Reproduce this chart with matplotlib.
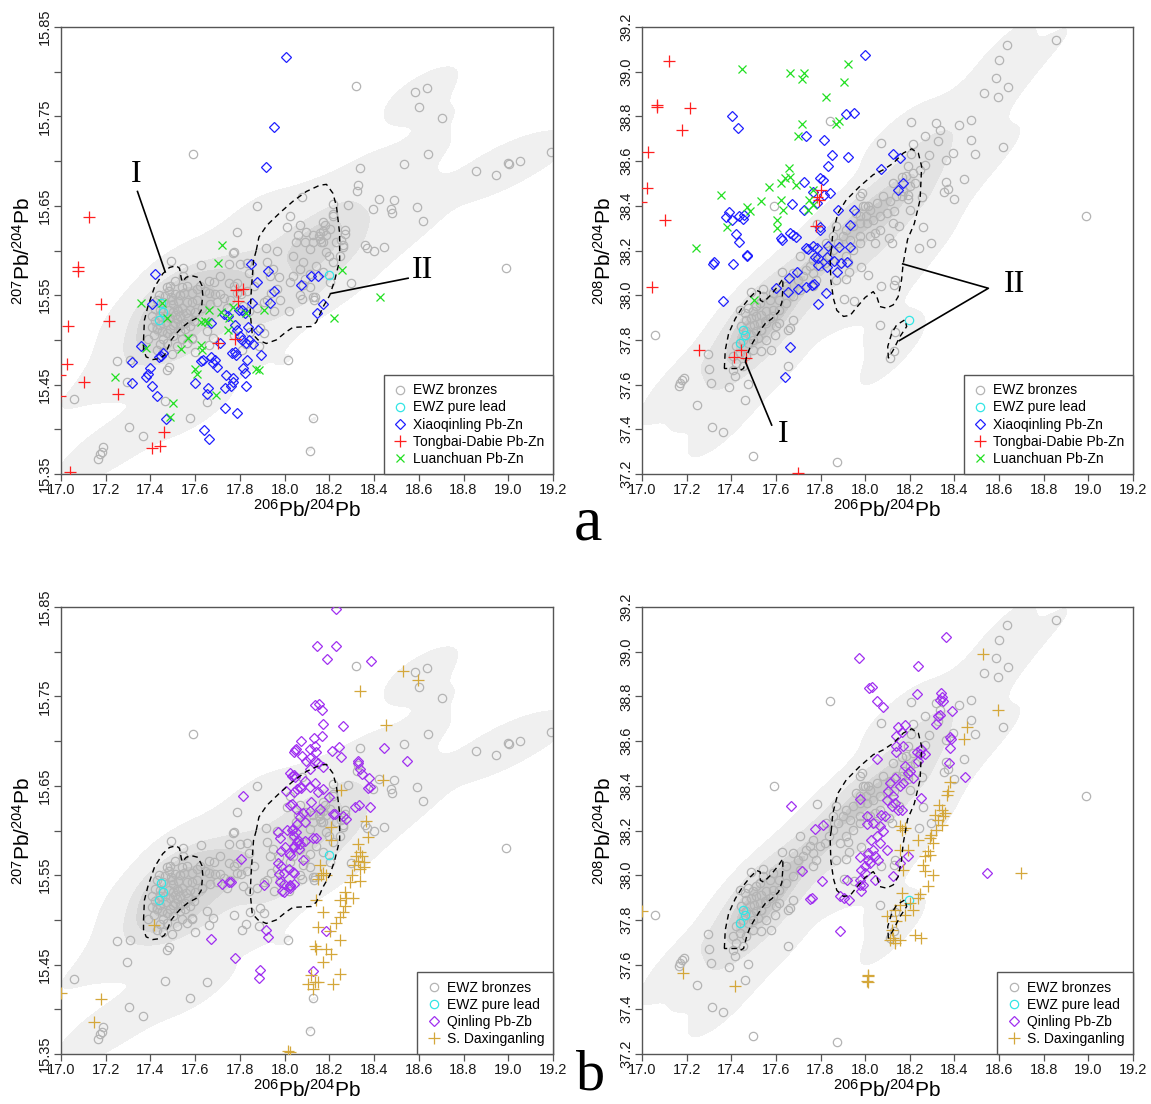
import numpy as np
import matplotlib
matplotlib.use("Agg")
import matplotlib.pyplot as plt
from matplotlib.lines import Line2D

plt.rcParams["font.family"] = ["Liberation Sans", "DejaVu Sans"]
plt.rcParams["mathtext.fontset"] = "custom"
plt.rcParams["mathtext.rm"] = "Liberation Sans"
plt.rcParams["mathtext.it"] = "Liberation Sans:italic"

# ---------------------------------------------------------------- data
# EWZ bronzes, 206Pb/204Pb vs 207Pb/204Pb
bronze_207 = np.array([
    (17.59, 15.708), (17.878, 15.65), (17.787, 15.621), (17.77, 15.597), (18.319, 15.784),
    (18.585, 15.777), (18.636, 15.782), (18.601, 15.761), (18.702, 15.748), (18.337, 15.692),
    (18.534, 15.697), (18.64, 15.708), (18.857, 15.689), (18.946, 15.684), (19.0, 15.698),
    (19.005, 15.697), (19.054, 15.70), (19.19, 15.71), (18.99, 15.58), (18.013, 15.477),
    (18.128, 15.413), (18.113, 15.376),
    (18.325, 15.666), (18.33, 15.673), (18.284, 15.651), (18.421, 15.658), (18.49, 15.657),
    (18.394, 15.646), (18.475, 15.646), (18.478, 15.642), (18.594, 15.649), (18.617, 15.633),
    (18.215, 15.652), (18.218, 15.641), (18.076, 15.66), (18.269, 15.623), (18.272, 15.618),
    (18.17, 15.622), (18.18, 15.628), (18.155, 15.616), (18.16, 15.62), (18.09, 15.61),
    (18.125, 15.61), (18.163, 15.61), (18.06, 15.617), (18.01, 15.626), (18.358, 15.606),
    (18.367, 15.603), (18.398, 15.60), (18.443, 15.604), (18.254, 15.612), (18.26, 15.604),
    (18.018, 15.532), (18.079, 15.546), (18.127, 15.548), (18.13, 15.545), (18.296, 15.564),
    (18.022, 15.565),
    (18.216, 15.639), (18.172, 15.632), (18.201, 15.624), (18.231, 15.609), (18.157, 15.613),
    (18.127, 15.617), (18.097, 15.621), (18.067, 15.628), (18.052, 15.609), (18.037, 15.594),
    (18.082, 15.587), (18.142, 15.583), (18.172, 15.576), (18.216, 15.587), (18.246, 15.594),
    (18.261, 15.606), (18.187, 15.617), (18.112, 15.602), (18.067, 15.579), (18.037, 15.572),
    (18.022, 15.639), (18.201, 15.565), (18.112, 15.574), (18.089, 15.568), (18.082, 15.561),
    (18.112, 15.559), (18.134, 15.548), (18.067, 15.55), (18.187, 15.598), (18.20, 15.594),
    (18.172, 15.609),
    (17.772, 15.598), (17.749, 15.585), (17.799, 15.585), (17.831, 15.586), (17.84, 15.575),
    (17.916, 15.603), (17.966, 15.60), (17.921, 15.587), (17.948, 15.579), (17.933, 15.572),
    (17.973, 15.57), (17.493, 15.588), (17.545, 15.58), (17.628, 15.584), (17.712, 15.572),
    (17.664, 15.566), (17.682, 15.565), (17.749, 15.564), (17.772, 15.56), (17.787, 15.564),
    (17.622, 15.56), (17.645, 15.555), (17.664, 15.553), (17.69, 15.551), (17.712, 15.551),
    (17.727, 15.547), (17.757, 15.545), (17.787, 15.553), (17.806, 15.551), (17.831, 15.555),
    (17.861, 15.56), (17.585, 15.542), (17.607, 15.545), (17.63, 15.536), (17.667, 15.54),
    (17.697, 15.542), (17.742, 15.536), (17.816, 15.538), (17.839, 15.532), (17.876, 15.536),
    (17.906, 15.542), (17.921, 15.545), (17.939, 15.553), (17.966, 15.557), (17.978, 15.545),
    (17.951, 15.532),
    (17.652, 15.51), (17.678, 15.502), (17.585, 15.501), (17.66, 15.494), (17.60, 15.486),
    (17.772, 15.506), (17.809, 15.489), (17.846, 15.509), (17.828, 15.495), (17.888, 15.513),
    (17.906, 15.508), (17.884, 15.493),
    (17.249, 15.476), (17.309, 15.478), (17.297, 15.453), (17.06, 15.434), (17.303, 15.403),
    (17.366, 15.393), (17.167, 15.367), (17.175, 15.372), (17.187, 15.38), (17.182, 15.375),
    (17.466, 15.432), (17.476, 15.466), (17.481, 15.47), (17.575, 15.413), (17.652, 15.43),
    (17.391, 15.501), (17.416, 15.506), (17.428, 15.512), (17.443, 15.517), (17.406, 15.514),
    (17.458, 15.501), (17.473, 15.508), (17.488, 15.512), (17.503, 15.517), (17.518, 15.523),
    (17.533, 15.527), (17.428, 15.489), (17.458, 15.486), (17.443, 15.495), (17.473, 15.497),
    (17.503, 15.504), (17.533, 15.51), (17.555, 15.512), (17.578, 15.516), (17.585, 15.502),
    (17.563, 15.497), (17.54, 15.501), (17.518, 15.493), (17.496, 15.484), (17.466, 15.549),
    (17.481, 15.555), (17.496, 15.545), (17.51, 15.551), (17.525, 15.544), (17.54, 15.536),
    (17.481, 15.534), (17.503, 15.531), (17.525, 15.532), (17.548, 15.553), (17.563, 15.542),
    (17.578, 15.534), (17.60, 15.531), (17.593, 15.521), (17.57, 15.525), (17.555, 15.519),
    (17.533, 15.517), (17.51, 15.519), (17.488, 15.525), (17.466, 15.527), (17.443, 15.534),
    (17.428, 15.545), (17.458, 15.542), (17.473, 15.559), (17.488, 15.56), (17.51, 15.566),
    (17.545, 15.572), (17.54, 15.559), (17.563, 15.56), (17.585, 15.553), (17.607, 15.557),
    (17.443, 15.527), (17.421, 15.521), (17.406, 15.527), (17.50, 15.54), (17.52, 15.535),
    (17.49, 15.548), (17.47, 15.52), (17.51, 15.528), (17.45, 15.51), (17.53, 15.55),
    (17.42, 15.535), (17.44, 15.55), (17.56, 15.53),
])

# EWZ bronzes, 206Pb/204Pb vs 208Pb/204Pb
bronze_208 = np.array([
    (17.058, 37.823), (17.164, 37.595), (17.172, 37.607), (17.179, 37.619), (17.187, 37.63),
    (17.248, 37.51), (17.296, 37.738), (17.30, 37.67), (17.307, 37.607), (17.313, 37.409),
    (17.363, 37.388), (17.388, 37.589), (17.418, 37.637), (17.463, 37.533), (17.475, 37.603),
    (17.496, 37.279), (17.873, 37.252), (17.49, 38.013), (17.542, 38.028), (17.628, 38.104),
    (17.654, 37.846), (17.661, 37.853), (17.655, 37.685), (17.676, 37.891), (17.709, 38.174),
    (17.591, 38.40), (17.843, 38.778), (17.785, 38.32), (17.915, 38.073), (17.903, 37.983),
    (17.952, 37.973), (18.012, 38.092),
    (17.676, 38.099), (17.699, 38.069), (17.721, 38.084), (17.736, 38.114), (17.751, 38.129),
    (17.766, 38.099), (17.781, 38.069), (17.796, 38.129), (17.818, 38.144), (17.84, 38.174),
    (17.855, 38.204), (17.878, 38.234), (17.90, 38.263), (17.915, 38.293), (17.945, 38.308),
    (17.975, 38.323), (18.004, 38.353), (17.766, 38.04), (17.706, 38.025), (17.676, 37.995),
    (17.646, 37.965), (17.616, 37.935), (17.587, 37.905), (17.557, 37.876), (17.534, 37.846),
    (17.587, 38.01), (17.616, 37.98), (17.646, 38.04), (17.766, 38.159), (17.826, 38.234),
    (17.87, 38.308), (17.93, 38.248), (17.96, 38.368), (17.99, 38.398), (17.87, 38.069),
    (17.885, 38.144), (17.915, 38.174), (17.945, 38.204), (17.975, 38.234), (17.855, 38.263),
    (17.437, 37.935), (17.46, 37.92), (17.475, 37.943), (17.497, 37.928), (17.512, 37.95),
    (17.527, 37.965), (17.467, 37.891), (17.49, 37.898), (17.512, 37.905), (17.534, 37.913),
    (17.557, 37.928), (17.482, 37.861), (17.504, 37.868), (17.527, 37.876), (17.549, 37.883),
    (17.572, 37.898), (17.445, 37.861), (17.467, 37.838), (17.49, 37.823), (17.512, 37.838),
    (17.534, 37.846), (17.452, 37.801), (17.475, 37.786), (17.497, 37.801), (17.519, 37.808),
    (17.422, 37.771), (17.437, 37.741), (17.467, 37.726), (17.497, 37.756), (17.534, 37.749),
    (17.579, 37.756), (17.557, 37.801), (17.594, 37.823), (17.601, 37.861), (17.616, 37.876),
    (17.422, 37.697), (17.407, 37.667), (17.452, 37.682), (17.542, 37.995), (17.572, 37.98),
    (17.587, 37.935), (17.407, 37.726),
    (18.857, 39.143), (18.636, 39.118), (18.601, 39.054), (18.585, 38.972), (18.64, 38.932),
    (18.534, 38.905), (18.593, 38.887), (18.206, 38.775), (18.318, 38.77), (18.421, 38.762),
    (18.472, 38.785), (18.269, 38.711), (18.334, 38.738), (18.325, 38.69), (18.475, 38.696),
    (18.07, 38.681), (18.215, 38.678), (18.207, 38.633), (18.284, 38.627), (18.393, 38.636),
    (18.49, 38.633), (18.616, 38.662), (18.363, 38.606), (18.269, 38.584), (18.19, 38.576),
    (18.214, 38.546), (18.165, 38.531), (18.442, 38.52), (18.364, 38.505), (18.37, 38.475),
    (18.355, 38.46), (18.399, 38.432), (18.253, 38.441), (18.19, 38.45), (18.19, 38.43),
    (17.984, 38.457), (18.013, 38.40), (18.13, 38.377), (18.151, 38.308), (18.261, 38.307),
    (18.991, 38.353), (18.294, 38.234), (18.24, 38.211), (18.121, 38.234), (18.107, 38.256),
    (18.042, 38.234), (18.043, 38.278), (17.922, 38.15), (17.926, 38.103), (17.98, 38.128),
    (18.133, 38.067), (18.131, 38.047), (18.069, 38.04), (18.066, 37.868), (18.131, 37.749),
    (18.112, 37.719), (18.132, 37.834),
    (17.976, 38.442), (17.999, 38.398), (18.021, 38.383), (18.051, 38.413), (18.081, 38.442),
    (18.11, 38.42), (18.14, 38.442), (18.17, 38.465), (18.20, 38.487), (17.976, 38.353),
    (18.006, 38.323), (18.036, 38.338), (18.066, 38.353), (18.096, 38.368), (18.125, 38.323),
    (18.021, 38.263), (18.066, 38.293), (18.20, 38.383), (18.163, 38.442), (18.222, 38.502),
    (18.245, 38.562), (18.185, 38.532), (18.125, 38.502), (17.976, 38.263),
])

lead_207 = np.array([(17.445, 15.541), (17.437, 15.522), (17.455, 15.531), (18.197, 15.573)])
lead_208 = np.array([(17.451, 37.843), (17.46, 37.82), (17.437, 37.786), (18.198, 37.888)])

xiao_207 = np.array([
    (18.004, 15.816), (17.951, 15.738), (17.915, 15.693), (17.421, 15.574), (17.407, 15.54),
    (17.357, 15.493), (17.448, 15.482), (17.458, 15.485), (17.437, 15.481), (17.316, 15.475),
    (17.399, 15.469), (17.378, 15.459), (17.388, 15.462), (17.319, 15.452), (17.407, 15.448),
    (17.43, 15.437), (17.47, 15.411), (17.64, 15.399), (17.661, 15.389), (17.597, 15.452),
    (17.625, 15.476), (17.637, 15.477), (17.669, 15.481), (17.687, 15.478), (17.679, 15.474),
    (17.697, 15.47), (17.651, 15.44), (17.657, 15.446), (17.669, 15.519), (17.73, 15.529),
    (17.745, 15.527), (17.709, 15.496), (17.736, 15.461), (17.734, 15.446), (17.761, 15.448),
    (17.769, 15.457), (17.77, 15.453), (17.734, 15.424), (17.785, 15.418), (17.828, 15.448),
    (17.821, 15.463), (17.813, 15.469), (17.831, 15.478), (17.763, 15.485), (17.776, 15.487),
    (17.784, 15.483), (17.776, 15.517), (17.787, 15.511), (17.799, 15.504), (17.81, 15.50),
    (17.826, 15.497), (17.84, 15.50), (17.796, 15.533), (17.81, 15.533), (17.825, 15.53),
    (17.836, 15.514), (17.855, 15.541), (17.881, 15.511), (17.857, 15.495), (17.893, 15.483),
    (17.848, 15.585), (17.878, 15.565), (17.925, 15.577), (17.952, 15.555), (17.934, 15.541),
    (18.072, 15.561), (18.12, 15.571), (18.149, 15.571), (18.172, 15.54), (18.146, 15.53),
])
xiao_208 = np.array([
    (18.001, 39.074), (17.404, 38.804), (17.43, 38.746), (17.733, 38.712), (17.815, 38.694),
    (17.852, 38.627), (17.833, 38.579), (17.922, 38.617), (17.915, 38.809), (17.949, 38.813),
    (17.724, 38.507), (17.796, 38.523), (17.81, 38.515), (17.766, 38.463), (17.815, 38.449),
    (17.843, 38.459), (17.672, 38.408), (17.725, 38.379), (17.784, 38.411), (17.878, 38.382),
    (17.949, 38.379), (17.933, 38.315), (17.796, 38.307), (17.796, 38.292), (17.388, 38.371),
    (17.378, 38.352), (17.403, 38.337), (17.434, 38.355), (17.452, 38.34), (17.457, 38.359),
    (17.422, 38.273), (17.434, 38.237), (17.472, 38.181), (17.624, 38.255), (17.628, 38.248),
    (17.664, 38.277), (17.676, 38.27), (17.688, 38.262), (17.733, 38.21), (17.766, 38.218),
    (17.784, 38.21), (17.882, 38.215), (17.833, 38.222), (17.47, 38.175), (17.407, 38.14),
    (17.318, 38.14), (17.321, 38.148), (17.361, 37.974), (17.601, 38.033), (17.652, 38.014),
    (17.657, 38.078), (17.694, 38.103), (17.697, 38.029), (17.733, 38.036), (17.763, 38.047),
    (17.769, 38.051), (17.742, 38.207), (17.776, 38.173), (17.787, 38.167), (17.787, 38.133),
    (17.831, 38.17), (17.828, 38.126), (17.861, 38.155), (17.893, 38.143), (17.825, 38.011),
    (17.787, 37.962), (17.661, 37.768), (17.642, 37.634), (17.93, 38.215), (17.873, 38.103),
    (17.918, 38.148), (18.126, 38.631), (18.156, 38.613), (18.072, 38.566), (18.171, 38.503),
    (18.148, 38.472),
])

tong_207 = np.array([
    (17.124, 15.638), (17.075, 15.582), (17.075, 15.577), (17.179, 15.54), (17.216, 15.521),
    (17.03, 15.516), (17.027, 15.473), (17.101, 15.453), (17.254, 15.439), (16.995, 15.461),
    (16.995, 15.437), (17.04, 15.352), (17.406, 15.379), (17.443, 15.381), (17.46, 15.397),
    (17.784, 15.556), (17.813, 15.557), (17.791, 15.543), (17.701, 15.497), (17.779, 15.501),
])
tong_208 = np.array([
    (17.121, 39.048), (17.069, 38.853), (17.069, 38.843), (17.213, 38.838), (17.179, 38.739),
    (17.027, 38.639), (17.022, 38.478), (17.101, 38.337), (16.997, 38.419), (17.785, 38.441),
    (17.793, 38.426), (17.803, 38.471), (17.778, 38.31), (17.045, 38.036), (17.254, 37.757),
    (17.41, 37.724), (17.445, 37.757), (17.466, 37.721), (17.701, 37.203),
])

luan_207 = np.array([
    (17.721, 15.606), (17.701, 15.586), (17.358, 15.541), (17.452, 15.541), (17.475, 15.525),
    (17.381, 15.491), (17.537, 15.49), (17.567, 15.502), (17.663, 15.533), (17.627, 15.52),
    (17.642, 15.521), (17.657, 15.52), (17.627, 15.494), (17.631, 15.489), (17.716, 15.531),
    (17.751, 15.524), (17.769, 15.537), (17.828, 15.53), (17.746, 15.511), (17.243, 15.459),
    (17.60, 15.467), (17.607, 15.462), (17.691, 15.438), (17.503, 15.429), (17.487, 15.414),
    (17.873, 15.467), (17.885, 15.466), (17.906, 15.534), (18.257, 15.578), (18.425, 15.548),
    (18.219, 15.525),
])
luan_208 = np.array([
    (17.449, 39.01), (17.661, 38.995), (17.724, 38.992), (17.718, 38.969), (17.922, 39.036),
    (17.904, 38.954), (17.825, 38.888), (17.718, 38.768), (17.699, 38.712), (17.882, 38.78),
    (17.87, 38.765), (17.657, 38.568), (17.661, 38.53), (17.642, 38.526), (17.621, 38.501),
    (17.691, 38.493), (17.567, 38.483), (17.534, 38.422), (17.624, 38.426), (17.631, 38.381),
    (17.472, 38.396), (17.485, 38.377), (17.354, 38.448), (17.607, 38.337), (17.604, 38.30),
    (17.382, 38.303), (17.24, 38.213), (17.766, 38.471), (17.748, 38.426), (17.743, 38.381),
    (17.766, 38.404), (17.503, 37.98),
])

qin_207 = np.array([
    (17.812, 15.639), (17.806, 15.568), (17.721, 15.54), (17.751, 15.542), (17.761, 15.542),
    (17.906, 15.539), (17.67, 15.479), (17.776, 15.457), (17.918, 15.489), (17.925, 15.481),
    (17.891, 15.444), (17.884, 15.435), (18.048, 15.69), (18.033, 15.661), (18.048, 15.66),
    (18.006, 15.644), (18.033, 15.63), (18.04, 15.643), (18.055, 15.646), (17.97, 15.598),
    (17.978, 15.592), (18.01, 15.601), (18.033, 15.601), (18.04, 15.594), (18.055, 15.607),
    (17.985, 15.577), (18.003, 15.581), (18.018, 15.575), (18.04, 15.583), (18.055, 15.587),
    (18.063, 15.579), (17.97, 15.564), (17.985, 15.56), (17.973, 15.551), (17.996, 15.553),
    (18.018, 15.557), (18.04, 15.553), (17.981, 15.542), (17.996, 15.54), (17.988, 15.532),
    (18.025, 15.538), (18.04, 15.54), (17.996, 15.531), (18.025, 15.536),
    (18.231, 15.848), (18.146, 15.806), (18.231, 15.806), (18.189, 15.792), (18.386, 15.79),
    (18.134, 15.74), (18.154, 15.742), (18.167, 15.735), (18.172, 15.719), (18.167, 15.706),
    (18.261, 15.717), (18.13, 15.703), (18.074, 15.70), (18.052, 15.691), (18.044, 15.688),
    (18.112, 15.691), (18.134, 15.695), (18.142, 15.688), (18.212, 15.689), (18.243, 15.693),
    (18.254, 15.682), (18.444, 15.692), (18.546, 15.678), (18.079, 15.683), (18.097, 15.678),
    (18.112, 15.681), (18.134, 15.678), (18.172, 15.671), (18.149, 15.675), (18.112, 15.669),
    (18.329, 15.675), (18.337, 15.669), (18.344, 15.663), (18.379, 15.659), (18.382, 15.649),
    (18.374, 15.647), (18.326, 15.678),
    (18.022, 15.664), (18.044, 15.662), (18.067, 15.649), (18.089, 15.655), (18.112, 15.649),
    (18.134, 15.653), (18.074, 15.647), (18.20, 15.637), (18.149, 15.643), (18.172, 15.646),
    (18.118, 15.632), (18.314, 15.626), (18.333, 15.629), (18.381, 15.626), (18.216, 15.619),
    (18.224, 15.618), (18.261, 15.616), (18.276, 15.613), (18.022, 15.628), (18.052, 15.624),
    (18.082, 15.62), (18.112, 15.622), (18.157, 15.624), (18.067, 15.615), (18.089, 15.609),
    (18.037, 15.602), (18.052, 15.598), (18.059, 15.589), (18.044, 15.581), (18.067, 15.585),
    (18.022, 15.573), (18.082, 15.567), (18.037, 15.554), (18.022, 15.539), (18.127, 15.592),
    (18.142, 15.592), (18.089, 15.588), (18.184, 15.488), (18.127, 15.443),
])
qin_208 = np.array([
    (17.972, 38.972), (18.019, 38.838), (17.667, 38.308), (17.773, 38.208), (17.81, 38.223),
    (17.978, 38.341), (18.007, 38.229), (17.719, 38.017), (17.806, 37.973), (17.975, 38.08),
    (17.997, 38.04), (17.982, 38.025), (18.012, 38.07), (17.919, 37.977), (17.975, 37.98),
    (17.99, 37.958), (17.982, 37.928), (17.751, 37.893), (17.761, 37.898), (17.885, 37.905),
    (17.904, 37.898), (17.927, 37.887), (17.885, 37.749),
    (18.364, 39.064), (18.237, 38.935), (18.031, 38.84), (18.051, 38.781), (18.081, 38.753),
    (18.233, 38.812), (18.339, 38.815), (18.346, 38.797), (18.334, 38.785), (18.349, 38.778),
    (18.334, 38.718), (18.328, 38.711), (18.391, 38.733), (18.319, 38.676), (18.148, 38.662),
    (18.178, 38.671), (18.163, 38.639), (18.14, 38.621), (18.379, 38.617), (18.385, 38.611),
    (18.379, 38.569), (18.376, 38.502), (18.446, 38.439), (18.051, 38.52),
    (18.231, 38.55), (18.245, 38.543), (18.267, 38.543), (18.252, 38.565), (18.237, 38.513),
    (18.14, 38.551), (18.14, 38.576), (18.17, 38.576),
    (18.178, 38.487), (18.20, 38.465), (18.215, 38.435), (18.193, 38.457), (18.17, 38.413),
    (18.155, 38.398), (18.133, 38.435), (18.11, 38.413), (18.103, 38.376), (18.125, 38.353),
    (18.096, 38.338), (18.133, 38.323), (18.118, 38.308), (18.148, 38.293), (18.073, 38.271),
    (18.088, 38.263), (18.163, 38.293), (18.252, 38.345),
    (18.006, 38.263), (18.036, 38.234), (18.066, 38.219), (18.081, 38.196), (18.051, 38.174),
    (18.028, 38.159), (18.066, 38.144), (18.096, 38.114), (18.036, 38.114), (18.013, 38.099),
    (18.043, 38.084), (18.058, 38.069), (18.021, 38.055), (17.999, 38.01), (18.043, 37.98),
    (17.976, 37.958), (18.125, 37.995), (18.193, 38.085), (18.157, 38.055), (18.548, 38.01),
])

sdx_207 = np.array([
    (17.415, 15.494), (17.179, 15.412), (17.146, 15.386), (18.013, 15.353), (16.998, 15.418),
    (18.528, 15.778), (18.596, 15.768), (18.336, 15.756), (18.453, 15.718), (18.441, 15.657),
    (18.254, 15.645), (18.366, 15.611), (18.209, 15.604), (18.374, 15.593), (18.206, 15.589),
    (18.329, 15.585), (18.336, 15.576), (18.321, 15.572), (18.348, 15.572), (18.329, 15.566),
    (18.354, 15.565), (18.309, 15.561), (18.339, 15.557), (18.354, 15.559), (18.336, 15.544),
    (18.291, 15.542), (18.299, 15.55), (18.269, 15.531), (18.246, 15.522), (18.276, 15.525),
    (18.306, 15.524), (18.269, 15.516), (18.261, 15.509), (18.246, 15.503), (18.231, 15.497),
    (18.157, 15.561), (18.172, 15.553), (18.164, 15.55), (18.187, 15.55), (18.149, 15.546),
    (18.142, 15.522), (18.172, 15.509), (18.149, 15.492), (18.202, 15.488), (18.246, 15.477),
    (18.134, 15.471), (18.142, 15.468), (18.187, 15.468), (18.209, 15.462), (18.172, 15.453),
    (18.246, 15.44), (18.216, 15.428), (18.119, 15.438), (18.104, 15.428), (18.134, 15.43),
    (18.127, 15.423), (18.149, 15.43), (18.022, 15.352),
])
sdx_208 = np.array([
    (17.184, 37.562), (17.415, 37.503), (16.998, 37.838), (18.012, 37.555), (18.007, 37.525),
    (18.528, 38.99), (18.597, 38.741), (18.454, 38.663), (18.442, 38.609), (18.379, 38.416),
    (18.372, 38.375), (18.367, 38.357), (18.331, 38.316), (18.342, 38.293), (18.357, 38.278),
    (18.312, 38.271), (18.349, 38.263), (18.327, 38.248), (18.342, 38.226), (18.319, 38.204),
    (18.297, 38.181), (18.29, 38.166), (18.305, 38.144), (18.155, 38.219), (18.178, 38.211),
    (18.163, 38.204), (18.237, 38.159), (18.155, 38.114), (18.193, 38.114), (18.282, 38.107),
    (18.267, 38.084), (18.29, 38.092), (18.261, 38.047), (18.267, 38.017), (18.305, 38.002),
    (18.282, 37.95), (18.17, 38.025), (18.163, 37.92), (18.245, 37.917), (18.237, 37.898),
    (18.215, 37.846), (18.20, 37.876), (18.155, 37.868), (18.133, 37.846), (18.096, 37.816),
    (18.14, 37.794), (18.178, 37.823), (18.118, 37.756), (18.11, 37.712), (18.133, 37.697),
    (18.155, 37.712), (18.125, 37.72), (18.222, 37.734), (18.252, 37.719), (18.70, 38.01),
    (18.013, 37.548), (18.013, 37.521),
])

# outlines of groups I and II
group1_207 = np.array([
    (17.369, 15.50), (17.373, 15.522), (17.388, 15.537), (17.418, 15.559), (17.455, 15.574),
    (17.485, 15.581), (17.515, 15.583), (17.53, 15.58), (17.537, 15.57), (17.542, 15.565),
    (17.56, 15.57), (17.582, 15.572), (17.612, 15.57), (17.63, 15.561), (17.634, 15.55),
    (17.627, 15.533), (17.604, 15.524), (17.567, 15.519), (17.537, 15.513), (17.515, 15.507),
    (17.493, 15.50), (17.478, 15.491), (17.463, 15.483), (17.44, 15.479), (17.41, 15.478),
    (17.381, 15.481), (17.369, 15.489), (17.369, 15.50),
])
group2_207 = np.array([
    (17.873, 15.60), (17.861, 15.589), (17.851, 15.556), (17.846, 15.53), (17.855, 15.507),
    (17.881, 15.50), (17.918, 15.496), (17.963, 15.50), (18.007, 15.509), (18.037, 15.514),
    (18.12, 15.515), (18.142, 15.52), (18.172, 15.537), (18.202, 15.55), (18.224, 15.567),
    (18.246, 15.589), (18.246, 15.619), (18.232, 15.649), (18.216, 15.664), (18.187, 15.674),
    (18.157, 15.673), (18.097, 15.666), (18.037, 15.655), (17.978, 15.642), (17.92, 15.628),
    (17.885, 15.615), (17.873, 15.60),
])
group1_208 = np.array([
    (17.369, 37.672), (17.373, 37.754), (17.388, 37.828), (17.418, 37.895), (17.455, 37.954),
    (17.485, 37.992), (17.515, 38.021), (17.53, 38.014), (17.53, 37.977), (17.545, 37.969),
    (17.575, 37.999), (17.612, 38.044), (17.631, 38.074), (17.631, 38.029), (17.627, 37.969),
    (17.612, 37.925), (17.582, 37.895), (17.552, 37.873), (17.53, 37.843), (17.507, 37.806),
    (17.485, 37.768), (17.47, 37.731), (17.463, 37.701), (17.455, 37.672), (17.44, 37.664),
    (17.425, 37.672), (17.381, 37.672), (17.369, 37.672),
])
group2_208 = np.array([
    (17.848, 38.20), (17.843, 38.17), (17.846, 38.066), (17.858, 37.984), (17.873, 37.932),
    (17.903, 37.905), (17.933, 37.91), (17.963, 37.947), (18.0, 37.99), (18.036, 38.016),
    (18.052, 37.994), (18.066, 37.949), (18.096, 37.942), (18.126, 37.957), (18.148, 37.994),
    (18.163, 38.069), (18.17, 38.14), (18.19, 38.25), (18.22, 38.32), (18.246, 38.427),
    (18.253, 38.576), (18.238, 38.636), (18.208, 38.655), (18.171, 38.636), (18.126, 38.591),
    (18.081, 38.561), (18.036, 38.539), (17.975, 38.486), (17.915, 38.426), (17.878, 38.367),
    (17.855, 38.277), (17.848, 38.20),
])
group2b_208 = np.array([
    (18.104, 37.718), (18.101, 37.77), (18.119, 37.83), (18.141, 37.867), (18.178, 37.89),
    (18.186, 37.86), (18.156, 37.815), (18.126, 37.755), (18.104, 37.718),
])

# ---------------------------------------------------------------- style
GREY = "#b4b4b4"
SHADES = ["#f0f0f0", "#e3e3e3", "#d6d6d6", "#c9c9c9"]
XLIM = (17.0, 19.2)
YLIM_207 = (15.35, 15.85)
YLIM_208 = (37.2, 39.2)

W, H = 1151, 1104
fig = plt.figure(figsize=(W / 100, H / 100), dpi=100)


def box(x0, y0, x1, y1):
    return [x0 / W, 1 - y1 / H, (x1 - x0) / W, (y1 - y0) / H]


def kde(pts, qx, qy, bw):
    cov = np.cov(pts.T) * bw ** 2
    inv = np.linalg.inv(cov)
    q = np.column_stack([np.ravel(qx), np.ravel(qy)])
    out = np.empty(len(q))
    for i in range(0, len(q), 4000):
        d = q[i:i + 4000, None, :] - pts[None, :, :]
        m = np.einsum("gni,ij,gnj->gn", d, inv, d)
        out[i:i + 4000] = np.exp(-0.5 * m).sum(1)
    return out.reshape(np.shape(qx))


def density(ax, pts, ylim, bw, probs):
    gx = np.linspace(XLIM[0] - 0.3, XLIM[1] + 0.3, 280)
    gy = np.linspace(ylim[0] - 0.15 * (ylim[1] - ylim[0]), ylim[1] + 0.15 * (ylim[1] - ylim[0]), 280)
    X, Y = np.meshgrid(gx, gy)
    Z = kde(pts, X, Y, bw)
    at_pts = kde(pts, pts[:, 0], pts[:, 1], bw)
    lv = list(np.quantile(at_pts, probs)) + [Z.max() * 1.01]
    ax.contourf(X, Y, Z, levels=lv, colors=SHADES, zorder=0)


def pts_plot(ax, arr, marker, color, ms, z=3):
    ax.plot(arr[:, 0], arr[:, 1], ls="none", marker=marker, mfc="none",
            mec=color, ms=ms, mew=0.9, zorder=z, clip_on=True)


def outline(ax, arr):
    ax.plot(arr[:, 0], arr[:, 1], color="black", lw=1.0, ls=(0, (4, 3)), zorder=5)


STY = {
    "bronze": ("o", GREY, 6.0),
    "lead": ("o", "#33e5e5", 6.0),
    "xiao": ("D", "#1f1fff", 5.3),
    "tong": ("+", "#ff1f1f", 8.5),
    "luan": ("x", "#22e022", 6.0),
    "qin": ("D", "#a02ff0", 5.3),
    "sdx": ("+", "#d4a73a", 8.5),
}


def setup(ax, ylim, ylabel):
    ax.set_xlim(*XLIM)
    ax.set_ylim(*ylim)
    ax.set_xticks(np.arange(17.0, 19.21, 0.2))
    ax.set_xticklabels([f"{v:.1f}" for v in np.arange(17.0, 19.21, 0.2)])
    if ylim == YLIM_207:
        ax.set_yticks(np.arange(15.35, 15.851, 0.1))
        ax.set_yticklabels([f"{v:.2f}" for v in np.arange(15.35, 15.851, 0.1)])
        ax.set_yticks(np.arange(15.40, 15.81, 0.1), minor=True)
    else:
        ax.set_yticks(np.arange(37.2, 39.21, 0.2))
        ax.set_yticklabels([f"{v:.1f}" for v in np.arange(37.2, 39.21, 0.2)])
    ax.tick_params(which="both", direction="out", length=5, width=0.9, color="#555555",
                   labelsize=10.5, pad=1.5, labelcolor="#1a1a1a")
    for lab in ax.get_yticklabels():
        lab.set_rotation(90)
        lab.set_va("center")
    for s in ax.spines.values():
        s.set_color("#555555")
        s.set_linewidth(1.0)
    ax.set_xlabel(r"$^{206}$Pb/$^{204}$Pb", fontsize=15, labelpad=1)
    ax.set_ylabel(ylabel, fontsize=15, labelpad=3)


def legend(ax, keys, labels):
    hs = []
    for k in keys:
        m, c, s = STY[k]
        hs.append(Line2D([], [], ls="none", marker=m, mfc="none", mec=c, ms=s, mew=0.9))
    leg = ax.legend(hs, labels, loc="lower right", borderaxespad=0, frameon=True,
                    fancybox=False, fontsize=10, handlelength=1.2, handletextpad=0.35,
                    labelspacing=0.22, borderpad=0.6, edgecolor="#555555", framealpha=1)
    leg.get_frame().set_linewidth(1.0)


LBL207 = r"$^{207}$Pb/$^{204}$Pb"
LBL208 = r"$^{208}$Pb/$^{204}$Pb"
serif = dict(family=["Liberation Serif", "DejaVu Serif"], fontsize=23)

BW = 0.3
PROBS = [0.015, 0.3, 0.55, 0.8]

panels = [
    (box(61, 27, 553, 474), "top", 207),
    (box(642, 27, 1133, 474), "top", 208),
    (box(61, 607, 553, 1054), "bottom", 207),
    (box(642, 607, 1133, 1054), "bottom", 208),
]

for rect, row, iso in panels:
    ax = fig.add_axes(rect)
    if iso == 207:
        bro, lead, ylim = bronze_207, lead_207, YLIM_207
        xiao, tong, luan, qin, sdx = xiao_207, tong_207, luan_207, qin_207, sdx_207
        setup(ax, ylim, LBL207)
    else:
        bro, lead, ylim = bronze_208, lead_208, YLIM_208
        xiao, tong, luan, qin, sdx = xiao_208, tong_208, luan_208, qin_208, sdx_208
        setup(ax, ylim, LBL208)

    density(ax, bro, ylim, BW, PROBS)
    pts_plot(ax, bro, *STY["bronze"], z=2)

    if iso == 207:
        outline(ax, group1_207)
        outline(ax, group2_207)
    else:
        outline(ax, group1_208)
        outline(ax, group2_208)
        outline(ax, group2b_208)

    pts_plot(ax, lead, *STY["lead"], z=4)
    if row == "top":
        pts_plot(ax, xiao, *STY["xiao"], z=4)
        pts_plot(ax, tong, *STY["tong"], z=4)
        pts_plot(ax, luan, *STY["luan"], z=4)
        legend(ax, ["bronze", "lead", "xiao", "tong", "luan"],
               ["EWZ bronzes", "EWZ pure lead", "Xiaoqinling Pb-Zn",
                "Tongbai-Dabie Pb-Zn", "Luanchuan Pb-Zn"])
        if iso == 207:
            ax.plot([17.342, 17.466], [15.666, 15.576], color="black", lw=1.2, zorder=6)
            ax.text(17.337, 15.685, "I", ha="center", va="center", **serif)
            ax.plot([18.552, 18.209], [15.569, 15.552], color="black", lw=1.2, zorder=6)
            ax.text(18.618, 15.578, "II", ha="center", va="center", **serif)
        else:
            ax.plot([17.581, 17.465], [37.419, 37.698], color="black", lw=1.2, zorder=6)
            ax.text(17.633, 37.375, "I", ha="center", va="center", **serif)
            ax.plot([18.168, 18.552, 18.153], [38.14, 38.031, 37.797], color="black",
                    lw=1.2, zorder=6)
            ax.text(18.671, 38.046, "II", ha="center", va="center", **serif)
    else:
        pts_plot(ax, qin, *STY["qin"], z=4)
        pts_plot(ax, sdx, *STY["sdx"], z=4)
        legend(ax, ["bronze", "lead", "qin", "sdx"],
               ["EWZ bronzes", "EWZ pure lead", "Qinling Pb-Zb", "S. Daxinganling"])

fig.text(588 / W, 1 - 540 / H, "a", ha="center", va="baseline",
         family=["Liberation Serif", "DejaVu Serif"], fontsize=46)
fig.text(591 / W, 1 - 1089 / H, "b", ha="center", va="baseline",
         family=["Liberation Serif", "DejaVu Serif"], fontsize=42)

fig.savefig("out.png", dpi=100)
